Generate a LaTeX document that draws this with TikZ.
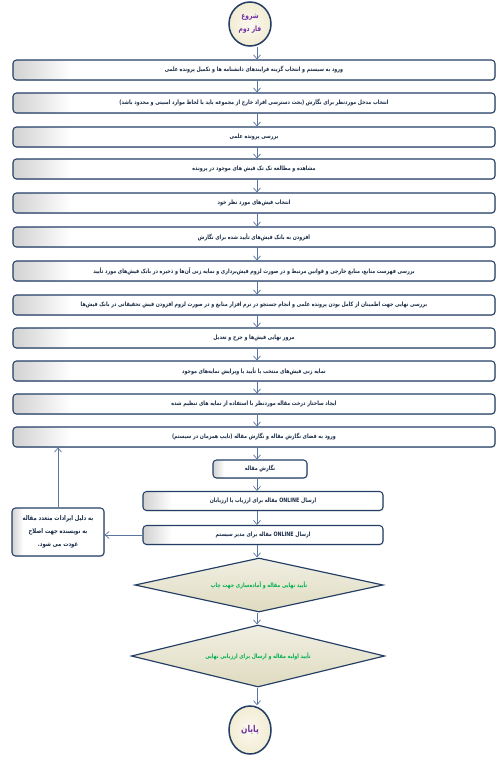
\documentclass[tikz,border=0pt]{standalone}
\usepackage{fontspec}
\usepackage{xcolor}
\usepackage{tikz}
\usetikzlibrary{arrows.meta,positioning,calc,shapes.geometric,shadows}
\TeXXeTstate=1
\newfontfamily\persian[Script=Arabic, FakeStretch=0.8]{DejaVu Sans}
\newcommand{\rtltext}[1]{\beginR #1\endR}
\definecolor{navy}{HTML}{243F66}
\definecolor{flowblue}{HTML}{5A76A0}
\definecolor{cream}{HTML}{F2ECD2}
\definecolor{khaki}{HTML}{DFDBC0}
\definecolor{startpurple}{HTML}{7030A0}
\definecolor{okgreen}{HTML}{00B050}
% grey only at the left end of each box
\pgfdeclarehorizontalshading{leftgrey}{100bp}{color(0bp)=(black!18); color(25bp)=(black!18);
  color(31bp)=(white); color(100bp)=(white)}

\begin{document}
\begin{tikzpicture}[
  x=0.03cm, y=-0.03cm,
  >={Straight Barb[length=3.5pt,width=6pt]},
  stepbox/.style={draw=navy, line width=0.9pt, rectangle, rounded corners=3pt,
                  shading=leftgrey,
                  drop shadow={opacity=0.25, shadow xshift=0.8pt, shadow yshift=-0.8pt},
                  inner sep=2pt, align=center, text=navy!70!black,
                  font=\persian\bfseries\fontsize{5.1}{7}\selectfont},
  widebox/.style={stepbox, minimum width=14.46cm, minimum height=0.6cm},
  midbox/.style={stepbox, minimum width=7.2cm, minimum height=0.57cm},
  termnode/.style={draw=navy, line width=1.3pt, ellipse, inner sep=0pt,
                   inner color=white!70!cream, outer color=cream,
                   text=startpurple, align=center},
  checknode/.style={draw=navy, line width=1pt, diamond, inner sep=0pt,
                    top color=white!55!khaki, bottom color=khaki,
                    text=okgreen, font=\persian\bfseries\fontsize{5.1}{7}\selectfont},
  flow/.style={->, flowblue, line width=0.6pt},
]
\useasboundingbox (0,0) rectangle (499,757);

% arrows run down this line
\coordinate (axis) at (257,0);

%%---- Start -----------------------------------------------------------
\node[termnode, minimum width=1.26cm, minimum height=1.32cm,
      font=\persian\bfseries\fontsize{6.3}{11}\selectfont] (Start) at (250,24)
  {\rtltext{شروع}\\\rtltext{فاز دوم}};

%%---- Main steps ------------------------------------------------------
\node[widebox] (S1) at (254,70)
  {\rtltext{ورود به سیستم و انتخاب گزینه فرایندهای دانشنامه ها و تکمیل پرونده علمی}};
\node[widebox] (S2) at (254,103)
  {\rtltext{انتخاب مدخل موردنظر برای نگارش (بحث دسترسی افراد خارج از مجموعه باید با لحاظ موارد امنیتی و محدود باشد)}};
\node[widebox] (S3) at (254,137)
  {\rtltext{بررسی پرونده علمی}};
\node[widebox] (S4) at (254,169)
  {\rtltext{مشاهده و مطالعه تک تک فیش های موجود در پرونده}};
\node[widebox] (S5) at (254,203)
  {\rtltext{انتخاب فیش‌های مورد نظر خود}};
\node[widebox] (S6) at (254,237)
  {\rtltext{افزودن به بانک فیش‌های تأیید شده برای نگارش}};
\node[widebox] (S7) at (254,271)
  {\rtltext{بررسی فهرست منابع، منابع خارجی و قوانین مرتبط و در صورت لزوم فیش‌برداری و نمایه زنی آن‌ها و  ذخیره در بانک فیش‌های مورد تأیید}};
\node[widebox] (S8) at (254,305)
  {\rtltext{بررسی نهایی جهت اطمینان از کامل بودن پرونده علمی و انجام جستجو در نرم افزار منابع و در صورت لزوم افزودن فیش تحقیقاتی در بانک فیش‌ها}};
\node[widebox] (S9) at (254,338)
  {\rtltext{مرور نهایی فیش‌ها و جرح و تعدیل}};
\node[widebox] (S10) at (254,371)
  {\rtltext{نمایه زنی فیش‌های منتخب یا تأیید یا ویرایش نمایه‌های موجود}};
\node[widebox] (S11) at (254,404)
  {\rtltext{ایجاد ساختار درخت مقاله موردنظر با استفاده از نمایه های تنظیم شده}};
\node[widebox] (S12) at (254,437)
  {\rtltext{ورود به  فضای نگارش مقاله و نگارش مقاله (تایپ همزمان در سیستم)}};

%%---- Writing and sending ---------------------------------------------
\node[stepbox, minimum width=2.82cm, minimum height=0.54cm] (Write) at (260,469)
  {\rtltext{نگارش مقاله}};
\node[midbox] (SendRev) at (263,501)
  {\rtltext{ارسال \beginL ONLINE\endL{} مقاله برای ارزیاب یا ارزیابان}};
\node[midbox] (SendAdm) at (263,535)
  {\rtltext{ارسال \beginL ONLINE\endL{} مقاله برای مدیر سیستم}};

% returned to the author
\node[stepbox, minimum width=2.76cm, minimum height=1.44cm,
      font=\persian\bfseries\fontsize{5.6}{11}\selectfont] (Return) at (58,532)
  {\rtltext{به دلیل ایرادات متعدد مقاله}\\\rtltext{به نویسنده جهت اصلاح}\\\rtltext{عودت می شود.}};

%%---- Checks and end --------------------------------------------------
\node[checknode, shape aspect=4.6, minimum width=7.45cm, minimum height=1.62cm]
  (Chk1) at (259,585) {\rtltext{تأیید نهایی مقاله و آماده‌سازی جهت چاپ}};
\node[checknode, shape aspect=4.1, minimum width=7.6cm, minimum height=1.86cm]
  (Chk2) at (258,656) {\rtltext{تأیید اولیه مقاله و ارسال برای ارزیابی نهایی}};

\node[termnode, minimum width=1.26cm, minimum height=1.44cm,
      font=\persian\bfseries\fontsize{8}{10}\selectfont] (End) at (250,730)
  {\rtltext{پایان}};

%%---- Connectors ------------------------------------------------------
\draw[flow] (Start.south -| axis) -- (S1.north -| axis);
\draw[flow] (S1.south -| axis) -- (S2.north -| axis);
\draw[flow] (S2.south -| axis) -- (S3.north -| axis);
\draw[flow] (S3.south -| axis) -- (S4.north -| axis);
\draw[flow] (S4.south -| axis) -- (S5.north -| axis);
\draw[flow] (S5.south -| axis) -- (S6.north -| axis);
\draw[flow] (S6.south -| axis) -- (S7.north -| axis);
\draw[flow] (S7.south -| axis) -- (S8.north -| axis);
\draw[flow] (S8.south -| axis) -- (S9.north -| axis);
\draw[flow] (S9.south -| axis) -- (S10.north -| axis);
\draw[flow] (S10.south -| axis) -- (S11.north -| axis);
\draw[flow] (S11.south -| axis) -- (S12.north -| axis);
\draw[flow] (S12.south -| axis) -- (Write.north -| axis);
\draw[flow] (Write.south -| axis) -- (SendRev.north -| axis);
\draw[flow] (SendRev.south -| axis) -- (SendAdm.north -| axis);
\draw[flow] (SendAdm.south -| axis) -- (Chk1.north -| axis);
\draw[flow] (Chk1.south -| axis) -- (Chk2.north -| axis);
\draw[flow] (Chk2.south -| axis) -- (End.north -| axis);

% loop back for corrections
\draw[flow] (SendAdm.west) -- (SendAdm.west -| Return.east);
\draw[flow] (Return.north) -- (Return.north |- S12.south);

\end{tikzpicture}
\end{document}
